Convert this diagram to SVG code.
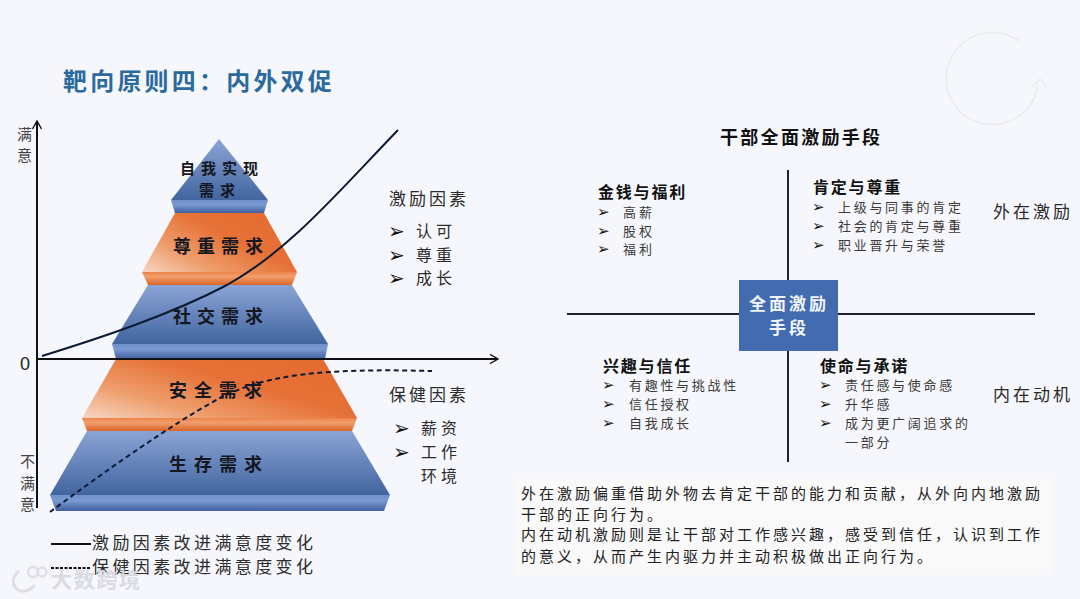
<svg xmlns="http://www.w3.org/2000/svg" width="1080" height="599" viewBox="0 0 1080 599">
<defs>
<linearGradient id="blue" x1="0" y1="0" x2="0" y2="1"><stop offset="0" stop-color="#8ba4d6"/><stop offset="1" stop-color="#41659f"/></linearGradient>
<linearGradient id="blueBand" x1="0" y1="0" x2="0" y2="1"><stop offset="0" stop-color="#6f90cc"/><stop offset="0.35" stop-color="#7b9ad2"/><stop offset="1" stop-color="#3f5f9e"/></linearGradient>
<linearGradient id="orange" x1="0" y1="1" x2="1" y2="0.25"><stop offset="0" stop-color="#f6d6c2"/><stop offset="0.3" stop-color="#ee9f6e"/><stop offset="0.65" stop-color="#e67137"/><stop offset="1" stop-color="#e46c32"/></linearGradient>
<linearGradient id="orangeBand" x1="0" y1="0" x2="0" y2="1"><stop offset="0" stop-color="#ec8348"/><stop offset="0.35" stop-color="#f29e6c"/><stop offset="1" stop-color="#da6528"/></linearGradient>
<marker id="open" viewBox="0 0 10 10" refX="9" refY="5" markerWidth="10" markerHeight="10" markerUnits="userSpaceOnUse" orient="auto"><path d="M1 0.5L9 5L1 9.5" fill="none" stroke="#111" stroke-width="1.4"/></marker>
</defs>
<style>
text{font-family:"Noto Sans CJK SC","Noto Sans",sans-serif;fill:#2b2b2b}
.ax{fill:none;stroke:#111;stroke-width:2}
.cv{fill:none;stroke:#0d1a33;stroke-width:2}
.dash{stroke-dasharray:5 3.5}
.lvl{font-size:18px;font-weight:700;letter-spacing:6px;fill:#14171f}
.lvs{font-size:15px;font-weight:700;letter-spacing:6px;fill:#14171f}
.big{font-size:17px;letter-spacing:3px}
.li{font-size:16px;letter-spacing:4px}
.b{font-family:"DejaVu Sans",sans-serif;fill:#111}
.b14{font-size:15px}
.b16{font-size:20px}
.qh{font-size:16px;font-weight:700;letter-spacing:1.8px;fill:#111}
.qi{font-size:13px;letter-spacing:2.7px;fill:#3a3a3a}
.lg{font-size:17px;letter-spacing:3.4px}
.ax2{font-size:15px;fill:#444}
.p{font-size:15px;letter-spacing:3px;fill:#222}
</style>
<rect id="background" width="1080" height="599" fill="#f6f7fc"/>
<g id="deco" fill="none" stroke="#e9ebf0" stroke-width="1.6"><path d="M1019 41A46 46 0 1 0 1038 84"/><path d="M1032 87L1040 79L1047 87"/></g>
<text id="title" x="63" y="90" style="font-size:24px;font-weight:700;letter-spacing:3.2px;fill:#2a6a9c">靶向原则四：内外双促</text>

<g id="level-self">
<path d="M219 139L268 200H171Z" fill="url(#blue)"/><path d="M171 200H268L264 213H175Z" fill="url(#blueBand)"/>
<text class="lvs" x="180" y="174">自我实现</text><text class="lvs" x="199" y="196">需求</text></g>
<g id="level-esteem">
<path d="M175 213H264L297 272H142Z" fill="url(#orange)"/><path d="M142 272H297L292 285H148Z" fill="url(#orangeBand)"/>
<text class="lvl" x="173" y="253">尊重需求</text></g>
<g id="level-social">
<path d="M148 285H292L328 344H112Z" fill="url(#blue)"/><path d="M112 344H328L325 359H116Z" fill="url(#blueBand)"/>
<text class="lvl" x="173" y="323">社交需求</text></g>
<g id="level-safety">
<path d="M116 359H323L357 418H82Z" fill="url(#orange)"/><path d="M82 418H357L352 431H87Z" fill="url(#orangeBand)"/>
<text class="lvl" x="169" y="397" style="letter-spacing:7px">安全需求</text></g>
<g id="level-survival">
<path d="M87 431H352L390 495H50Z" fill="url(#blue)"/><path d="M50 495H390L384 511H56Z" fill="url(#blueBand)"/>
<text class="lvl" x="169" y="471" style="letter-spacing:7px">生存需求</text></g>

<g id="connectors">
<path class="ax" d="M37 508V121" marker-end="url(#open)"/>
<path class="ax" d="M37 359H498" marker-end="url(#open)"/>
<path class="cv" d="M42 356C100 338 170 315 227 285C290 250 340 190 398 130"/>
<path class="cv dash" d="M50 512C100 475 170 425 220 398C265 375 320 368 432 371"/>
<path d="M51 544H91" stroke="#111" stroke-width="2"/>
<path class="dash" d="M51 568H91" stroke="#111" stroke-width="2" style="stroke-dasharray:3 1.5"/>
<path d="M788 170V462M567 314H1035" stroke="#20242c" stroke-width="2" fill="none"/>
</g>

<g id="axis-labels">
<text class="ax2" x="17" y="140">满</text><text class="ax2" x="17" y="161">意</text>
<text class="ax2" x="20" y="467">不</text><text class="ax2" x="20" y="489">满</text><text class="ax2" x="20" y="510">意</text>
<text x="20" y="370" style="font-family:'Liberation Sans',sans-serif;font-size:18px;fill:#222">0</text>
</g>

<g id="motivators">
<text class="big" x="389" y="205">激励因素</text>
<text class="b b16" x="388" y="238">➢</text><text class="li" x="416" y="237">认可</text>
<text class="b b16" x="388" y="262">➢</text><text class="li" x="416" y="261">尊重</text>
<text class="b b16" x="388" y="285">➢</text><text class="li" x="416" y="284">成长</text>
</g>
<g id="hygiene">
<text class="big" x="389" y="401">保健因素</text>
<text class="b b16" x="393" y="435">➢</text><text class="li" x="421" y="434">薪资</text>
<text class="b b16" x="393" y="459">➢</text><text class="li" x="421" y="458">工作</text>
<text class="li" x="421" y="482">环境</text>
</g>
<g id="legend">
<text class="lg" x="92" y="549">激励因素改进满意度变化</text>
<text class="lg" x="92" y="573">保健因素改进满意度变化</text>
</g>

<text id="right-title" x="720" y="144" style="font-size:18px;font-weight:700;letter-spacing:2.3px;fill:#111">干部全面激励手段</text>
<g id="center">
<rect x="739" y="280" width="99" height="71" fill="#426bb0"/>
<text x="749" y="310" style="font-size:17px;font-weight:700;letter-spacing:3px;fill:#f2f5fb">全面激励</text>
<text x="769" y="334" style="font-size:17px;font-weight:700;letter-spacing:3px;fill:#f2f5fb">手段</text>
</g>
<g id="q-money">
<text class="qh" x="598" y="198">金钱与福利</text>
<text class="b b14" x="597" y="217">➢</text><text class="qi" x="623" y="217" style="letter-spacing:3px">高薪</text>
<text class="b b14" x="597" y="236">➢</text><text class="qi" x="623" y="236" style="letter-spacing:3px">股权</text>
<text class="b b14" x="597" y="254">➢</text><text class="qi" x="623" y="254" style="letter-spacing:3px">福利</text>
</g>
<g id="q-respect">
<text class="qh" x="813" y="193">肯定与尊重</text>
<text class="b b14" x="812" y="212">➢</text><text class="qi" x="838" y="212">上级与同事的肯定</text>
<text class="b b14" x="812" y="231">➢</text><text class="qi" x="838" y="231">社会的肯定与尊重</text>
<text class="b b14" x="812" y="250">➢</text><text class="qi" x="838" y="250">职业晋升与荣誉</text>
</g>
<g id="q-interest">
<text class="qh" x="603" y="372">兴趣与信任</text>
<text class="b b14" x="602" y="390">➢</text><text class="qi" x="629" y="390">有趣性与挑战性</text>
<text class="b b14" x="602" y="409">➢</text><text class="qi" x="629" y="409">信任授权</text>
<text class="b b14" x="602" y="428">➢</text><text class="qi" x="629" y="428">自我成长</text>
</g>
<g id="q-mission">
<text class="qh" x="820" y="372">使命与承诺</text>
<text class="b b14" x="819" y="390">➢</text><text class="qi" x="845" y="390">责任感与使命感</text>
<text class="b b14" x="819" y="409">➢</text><text class="qi" x="845" y="409">升华感</text>
<text class="b b14" x="819" y="428">➢</text><text class="qi" x="845" y="428">成为更广阔追求的</text>
<text class="qi" x="845" y="447">一部分</text>
</g>
<text id="outer" class="big" x="993" y="218">外在激励</text>
<text id="inner" class="big" x="993" y="401">内在动机</text>

<g id="summary">
<rect x="515" y="478" width="537" height="97" fill="#f9f9fa"/>
<text class="p" x="521" y="499">外在激励偏重借助外物去肯定干部的能力和贡献，从外向内地激励</text>
<text class="p" x="521" y="520">干部的正向行为。</text>
<text class="p" x="521" y="540">内在动机激励则是让干部对工作感兴趣，感受到信任，认识到工作</text>
<text class="p" x="521" y="562">的意义，从而产生内驱力并主动积极做出正向行为。</text>
</g>

<g id="watermark" opacity="0.9">
<path d="M19 571C12 577 11 585 18 590C24 593 31 590 35 585" fill="none" stroke="#dcdde3" stroke-width="3"/>
<circle cx="33" cy="572" r="5" fill="none" stroke="#dcdde3" stroke-width="2.5"/><circle cx="42" cy="572" r="4.5" fill="none" stroke="#dcdde3" stroke-width="2.5"/>
<text x="51" y="587" style="font-size:21px;font-weight:700;letter-spacing:1.7px;fill:#d8d9e0">大数跨境</text>
</g>
</svg>
